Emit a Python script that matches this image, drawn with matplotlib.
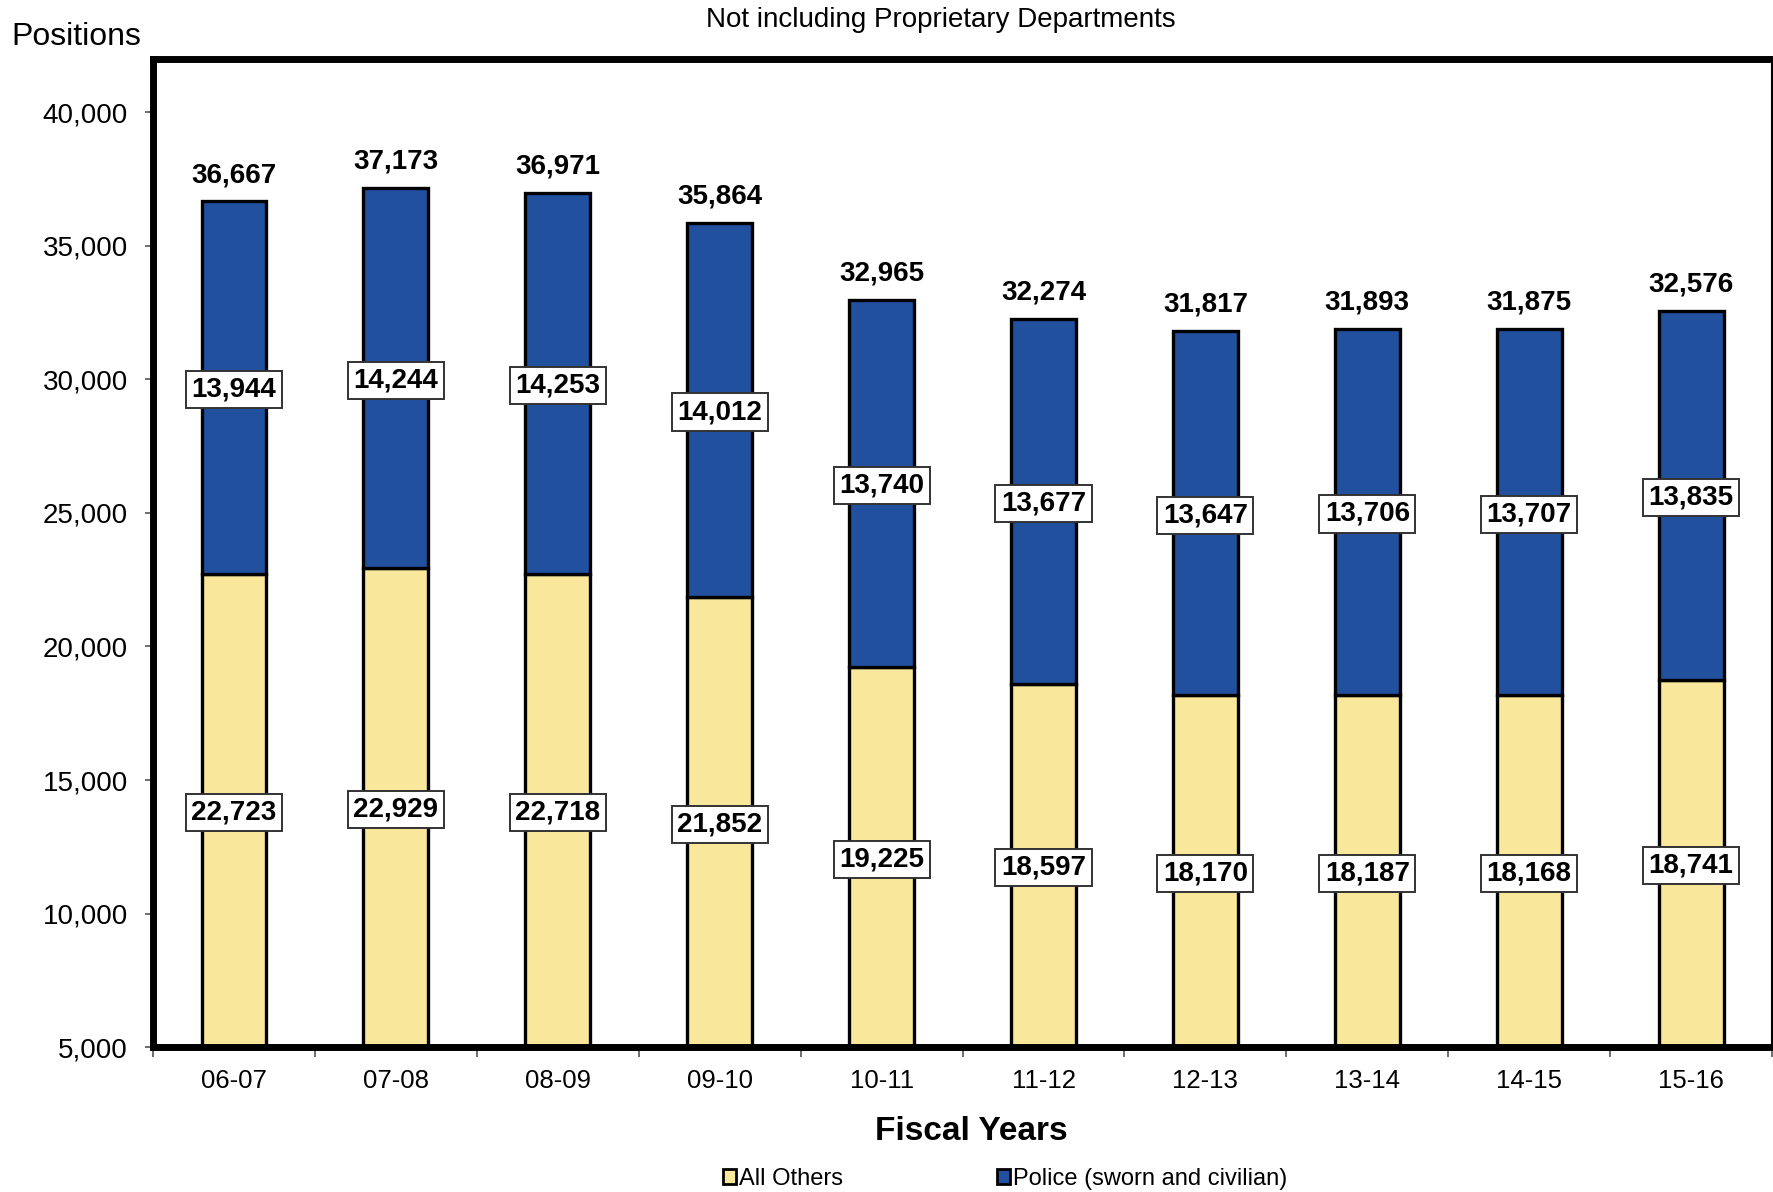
import matplotlib.pyplot as plt
from matplotlib.patches import Patch
from matplotlib.ticker import FuncFormatter, FixedLocator

plt.rcParams["font.family"] = ["Liberation Sans", "DejaVu Sans"]

YEARS = ["06-07", "07-08", "08-09", "09-10", "10-11", "11-12", "12-13", "13-14", "14-15", "15-16"]
ALL_OTHERS = [22723, 22929, 22718, 21852, 19225, 18597, 18170, 18187, 18168, 18741]
POLICE = [13944, 14244, 14253, 14012, 13740, 13677, 13647, 13706, 13707, 13835]

YELLOW = "#F9E79B"
BLUE = "#21509F"
Y_MIN, Y_MAX = 5000, 42000


def main() -> None:
    fig = plt.figure(figsize=(17.73, 11.92), dpi=100)
    ax = fig.add_axes([0.0863, 0.1216, 0.9132, 0.8289])

    x = list(range(len(YEARS)))
    totals = [a + b for a, b in zip(ALL_OTHERS, POLICE)]
    width = 0.40
    ax.bar(x, ALL_OTHERS, width, color=YELLOW, edgecolor="black", linewidth=2.4, zorder=2)
    ax.bar(x, POLICE, width, bottom=ALL_OTHERS, color=BLUE, edgecolor="black", linewidth=2.4, zorder=2)

    box = dict(boxstyle="square,pad=0.2", facecolor="white", edgecolor="#333333", linewidth=1.4)
    for xi, other, police, total in zip(x, ALL_OTHERS, POLICE, totals):
        ax.annotate(f"{other:,}", (xi, (Y_MIN + other) / 2), xytext=(0, -1.5), textcoords="offset points",
                    ha="center", va="center", fontsize=20, fontweight="bold", bbox=box, zorder=4)
        ax.annotate(f"{police:,}", (xi, other + police / 2), xytext=(0, -1.5), textcoords="offset points",
                    ha="center", va="center", fontsize=20, fontweight="bold", bbox=box, zorder=4)
        ax.annotate(f"{total:,}", (xi, total), xytext=(0, 19), textcoords="offset points",
                    ha="center", va="center", fontsize=20, fontweight="bold")

    ax.set_xlim(-0.5, len(YEARS) - 0.5)
    ax.set_ylim(Y_MIN, Y_MAX)
    ax.set_yticks(range(5000, 40001, 5000))
    ax.yaxis.set_major_formatter(FuncFormatter(lambda v, _: f"{int(v):,}"))
    ax.tick_params(axis="y", labelsize=20, length=6, width=1.2, color="#555555", pad=12)

    ax.set_xticks(x)
    ax.set_xticklabels(YEARS)
    ax.tick_params(axis="x", which="major", labelsize=18.5, length=0, pad=15.5)
    ax.xaxis.set_minor_locator(FixedLocator([i - 0.5 for i in range(len(YEARS) + 1)]))
    ax.tick_params(axis="x", which="minor", length=7, width=1.2, color="#555555")

    for side in ["left", "bottom", "top"]:
        ax.spines[side].set_linewidth(5)
    ax.spines["right"].set_linewidth(1.5)
    ax.spines["bottom"].set_zorder(5)

    fig.text(0.0062, 0.969, "Positions", fontsize=23, ha="left", va="center")
    fig.text(0.5307, 0.9835, "Not including Proprietary Departments", fontsize=20, ha="center", va="center")
    fig.text(0.548, 0.051, "Fiscal Years", fontsize=24, fontweight="bold", ha="center", va="center")

    handles = [
        Patch(facecolor=YELLOW, edgecolor="black", linewidth=2, label="All Others"),
        Patch(facecolor=BLUE, edgecolor="black", linewidth=2, label="Police (sworn and civilian)"),
    ]
    fig.legend(handles=handles, loc="center", bbox_to_anchor=(0.567, 0.011), ncol=2, frameon=False,
               fontsize=17, handlelength=0.55, handleheight=0.55, handletextpad=0.15, columnspacing=6.5)

    fig.savefig("out.png", dpi=100)
    plt.close(fig)


if __name__ == "__main__":
    main()
